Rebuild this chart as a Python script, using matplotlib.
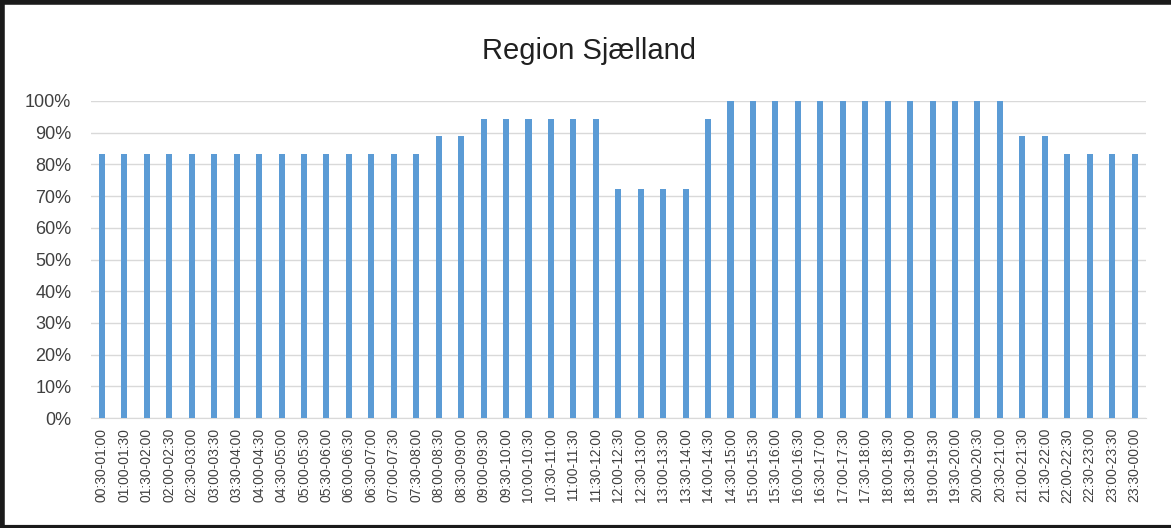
import matplotlib.pyplot as plt
from matplotlib.lines import Line2D
from matplotlib.ticker import PercentFormatter

# tidsintervaller (halve timer)
labels = ['00:30-01:00', '01:00-01:30', '01:30-02:00', '02:00-02:30', '02:30-03:00',
          '03:00-03:30', '03:30-04:00', '04:00-04:30', '04:30-05:00', '05:00-05:30',
          '05:30-06:00', '06:00-06:30', '06:30-07:00', '07:00-07:30', '07:30-08:00',
          '08:00-08:30', '08:30-09:00', '09:00-09:30', '09:30-10:00', '10:00-10:30',
          '10:30-11:00', '11:00-11:30', '11:30-12:00', '12:00-12:30', '12:30-13:00',
          '13:00-13:30', '13:30-14:00', '14:00-14:30', '14:30-15:00', '15:00-15:30',
          '15:30-16:00', '16:00-16:30', '16:30-17:00', '17:00-17:30', '17:30-18:00',
          '18:00-18:30', '18:30-19:00', '19:00-19:30', '19:30-20:00', '20:00-20:30',
          '20:30-21:00', '21:00-21:30', '21:30-22:00', '22:00-22:30', '22:30-23:00',
          '23:00-23:30', '23:30-00:00']

# andel
values = [0.833] * 15 + [0.889, 0.889] + [0.944] * 6 + [0.722] * 4 + [0.944] \
    + [1.0] * 13 + [0.889, 0.889] + [0.833] * 4

plt.rcParams['font.family'] = ['Liberation Sans', 'DejaVu Sans']

fig = plt.figure(figsize=(11.71, 5.28), dpi=100)
ax = fig.add_axes([0.0775, 0.208, 0.901, 0.601])

x = range(len(labels))
ax.bar(x, values, width=0.27, color='#5B9BD5', zorder=3)

ax.set_xlim(-0.5, len(labels) - 0.5)
ax.set_ylim(0, 1)
ax.set_yticks([i / 10 for i in range(11)])
ax.yaxis.set_major_formatter(PercentFormatter(1.0, decimals=0))
ax.set_xticks(list(x))
ax.set_xticklabels(labels, rotation=90, fontsize=10, color='#404040')
ax.tick_params(axis='y', labelsize=13, colors='#404040', length=0, pad=14)
ax.tick_params(axis='x', length=0, pad=7)
ax.grid(axis='y', color='#D9D9D9', linewidth=1, zorder=0)
for s in ['top', 'right', 'left']:
    ax.spines[s].set_visible(False)
ax.spines['bottom'].set_color('#D9D9D9')

fig.text(0.503, 0.903, 'Region Sjælland', ha='center', va='center', fontsize=21,
         color='#202020')

# sort ramme om billedet
fig.add_artist(Line2D([0, 1], [0.997, 0.997], color='#1a1a1a', linewidth=4, transform=fig.transFigure))
fig.add_artist(Line2D([0.0015, 0.0015], [0, 1], color='#1a1a1a', linewidth=4, transform=fig.transFigure))
fig.add_artist(Line2D([0, 1], [0.002, 0.002], color='#1a1a1a', linewidth=3, transform=fig.transFigure))

fig.savefig('out.png', dpi=100)
